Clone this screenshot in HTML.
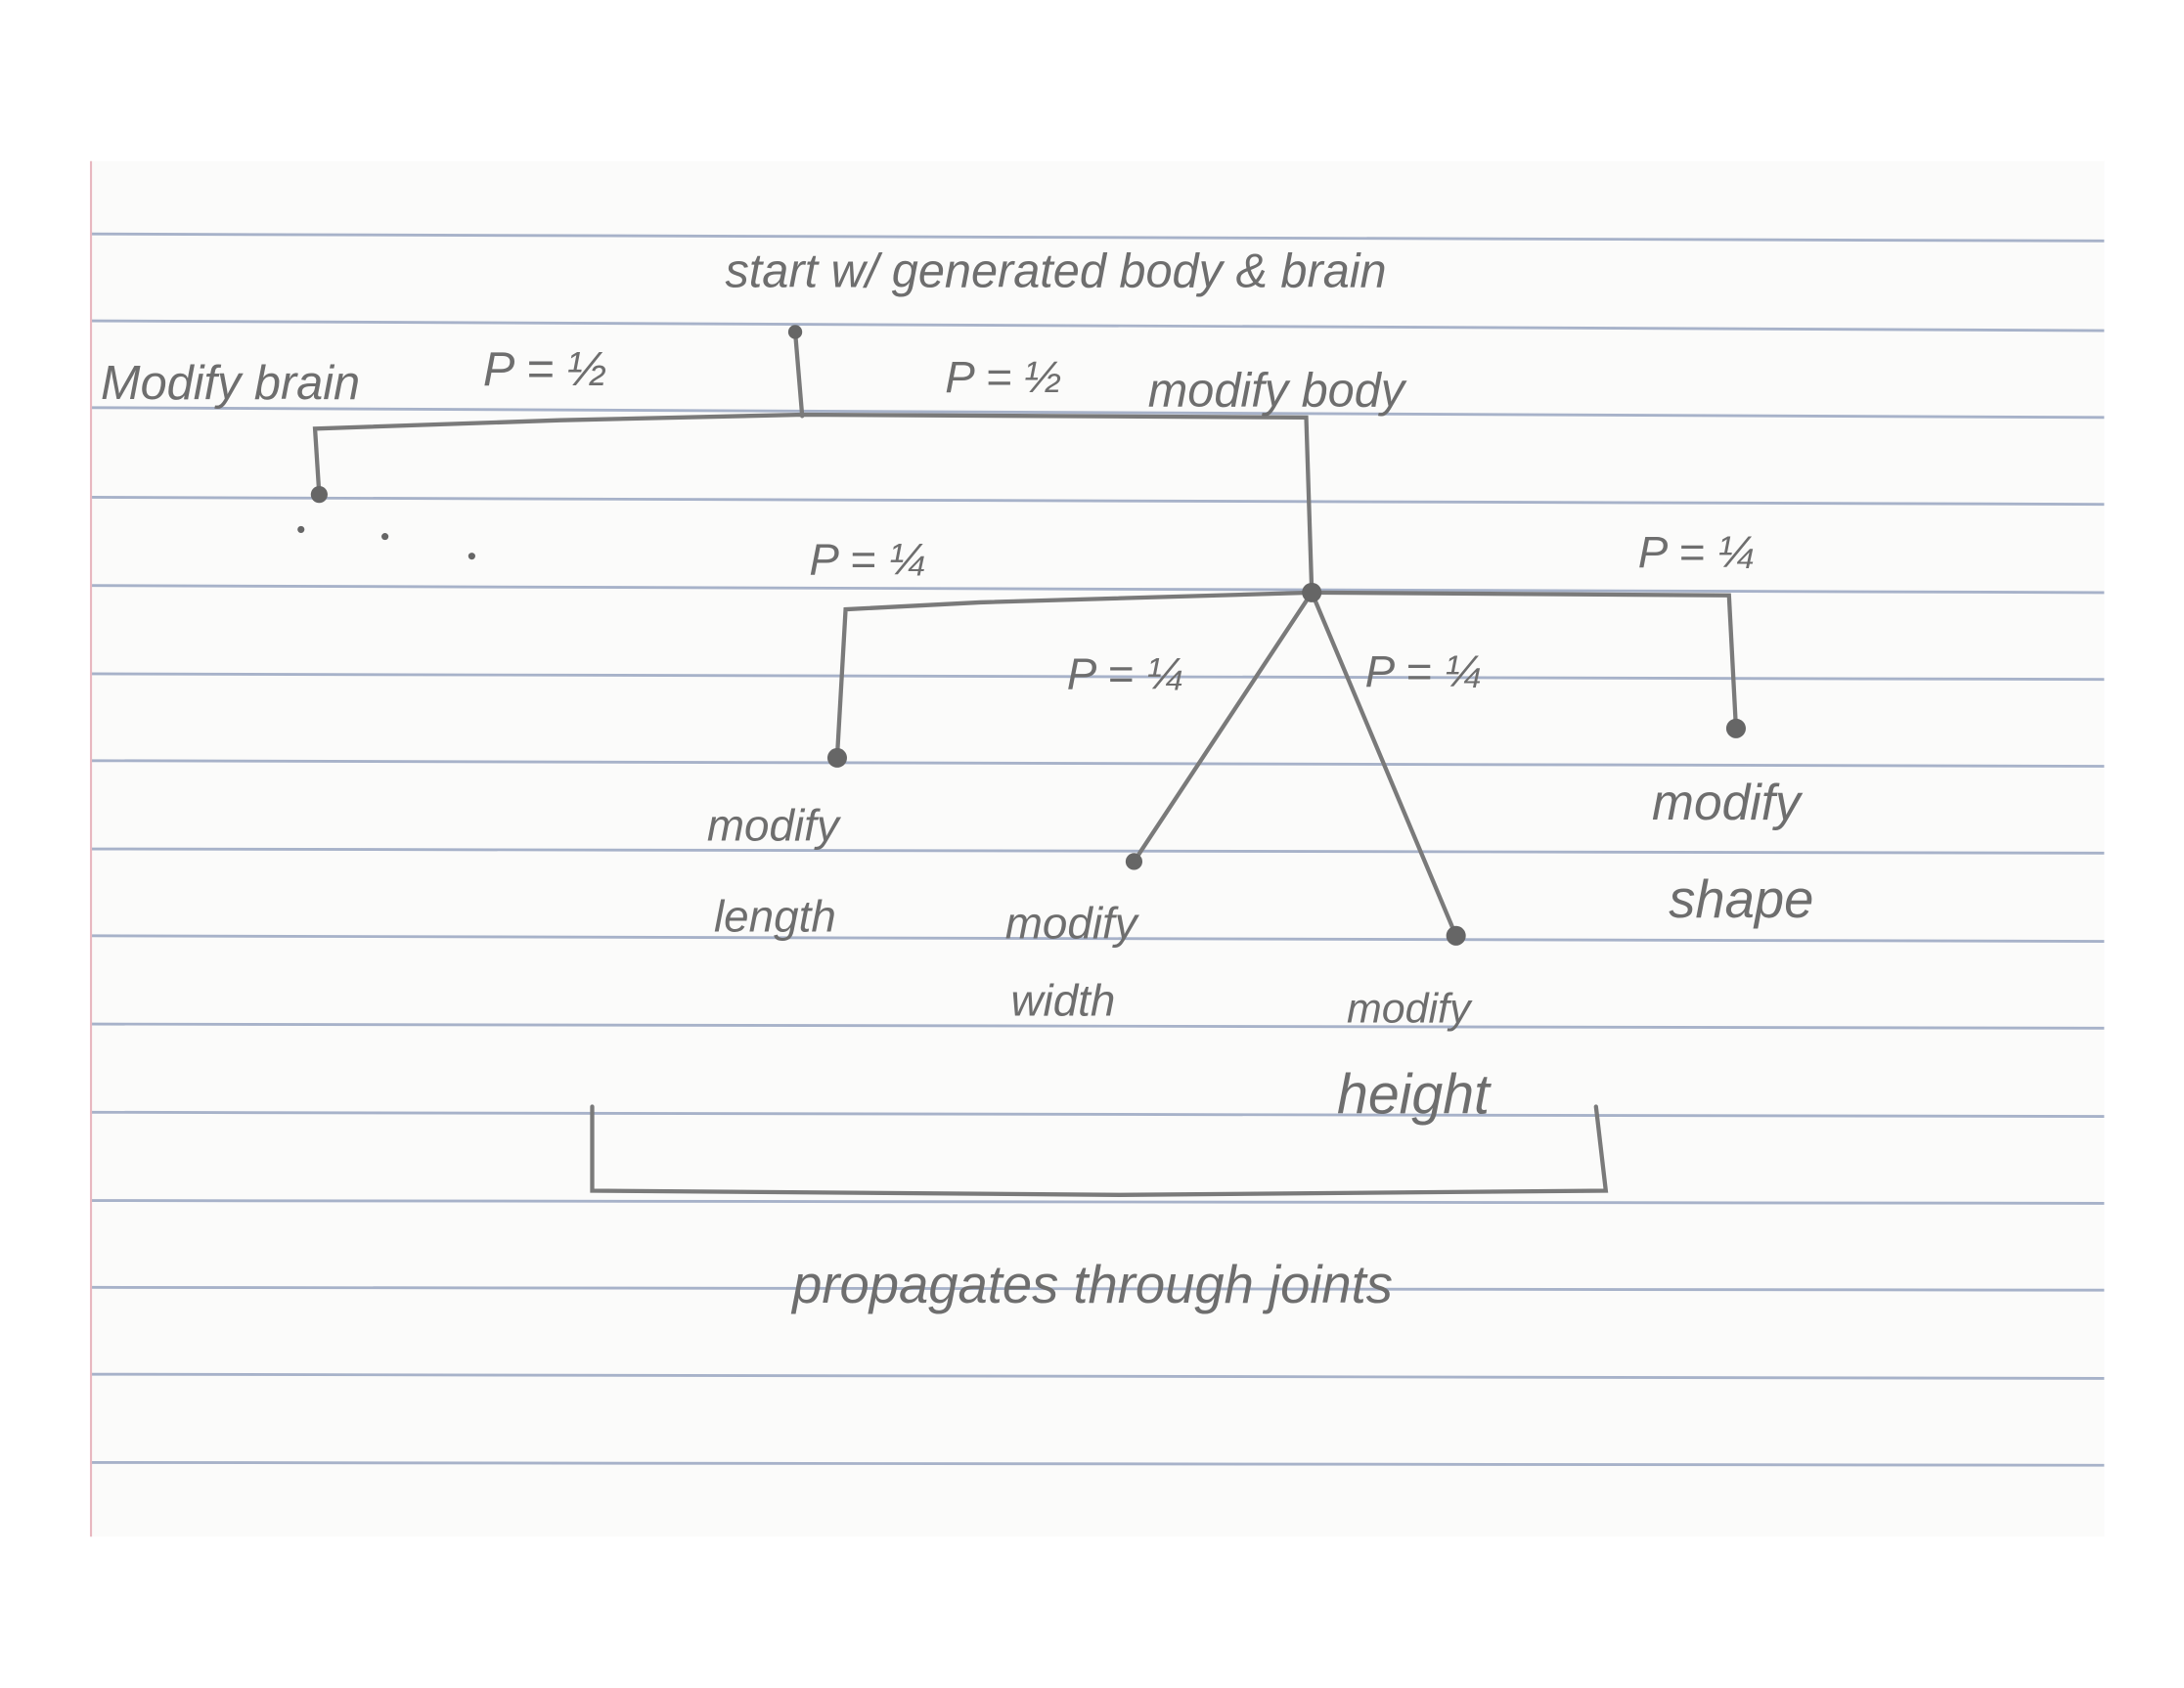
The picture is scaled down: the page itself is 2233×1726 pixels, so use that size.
<!DOCTYPE html>
<html><head><meta charset="utf-8"><style>
html,body{margin:0;padding:0;background:#fff;}
svg{display:block;}
text{font-family:"Liberation Sans",sans-serif;fill:#6e6e6e;font-style:italic;}
</style></head><body>
<svg width="2233" height="1726" viewBox="0 0 1560 1205" preserveAspectRatio="none" xmlns="http://www.w3.org/2000/svg">
<rect width="1560" height="1205" fill="#ffffff"/>
<rect x="65" y="115" width="1438" height="982" fill="#fbfbfa"/>
<g stroke="#a7b2c9" stroke-width="2">
<line x1="65" y1="167" x2="1503" y2="172"/>
<line x1="65" y1="229" x2="1503" y2="236"/>
<line x1="65" y1="291" x2="1503" y2="298"/>
<line x1="65" y1="355" x2="1503" y2="360"/>
<line x1="65" y1="418" x2="1503" y2="423"/>
<line x1="65" y1="481" x2="1503" y2="485"/>
<line x1="65" y1="543" x2="1503" y2="547"/>
<line x1="65" y1="606" x2="1503" y2="609"/>
<line x1="65" y1="668" x2="1503" y2="672"/>
<line x1="65" y1="731" x2="1503" y2="734"/>
<line x1="65" y1="794" x2="1503" y2="797"/>
<line x1="65" y1="857" x2="1503" y2="859"/>
<line x1="65" y1="919" x2="1503" y2="921"/>
<line x1="65" y1="981" x2="1503" y2="984"/>
<line x1="65" y1="1044" x2="1503" y2="1046"/>
</g>
<line x1="65" y1="115" x2="65" y2="1097" stroke="#e8b8c0" stroke-width="1.5"/>
<g stroke="#7a7a7a" stroke-width="3" fill="none" stroke-linecap="round">
<path d="M568 237 L573 297"/>
<path d="M228 353 L225 306 L400 300 L573 296 L933 298 L937 423"/>
<path d="M937 423 L700 430 L604 435 L598 540"/>
<path d="M937 423 L1235 425 L1240 520"/>
<path d="M937 423 L810 615"/>
<path d="M937 423 L1040 668"/>
<path d="M423 790 L423 850 L800 853 L1147 850 L1140 790"/>
</g>
<g fill="#666">
<circle cx="568" cy="237" r="5"/><circle cx="228" cy="353" r="6"/>
<circle cx="937" cy="423" r="7"/><circle cx="598" cy="541" r="7"/>
<circle cx="1240" cy="520" r="7"/><circle cx="810" cy="615" r="6"/>
<circle cx="1040" cy="668" r="7"/>
<circle cx="215" cy="378" r="2.5"/><circle cx="275" cy="383" r="2.5"/><circle cx="337" cy="397" r="2.5"/>
</g>
<text x="518" y="205" font-size="34">start w/ generated body &amp; brain</text>
<text x="72" y="285" font-size="34">Modify brain</text>
<text x="345" y="275" font-size="34">P = ½</text>
<text x="675" y="280" font-size="32">P = ½</text>
<text x="820" y="290" font-size="34">modify body</text>
<text x="578" y="410" font-size="32">P = ¼</text>
<text x="1170" y="405" font-size="32">P = ¼</text>
<text x="762" y="492" font-size="32">P = ¼</text>
<text x="975" y="490" font-size="32">P = ¼</text>
<text x="505" y="600" font-size="32">modify</text>
<text x="510" y="665" font-size="32">length</text>
<text x="718" y="670" font-size="32">modify</text>
<text x="722" y="725" font-size="32">width</text>
<text x="962" y="730" font-size="30">modify</text>
<text x="955" y="795" font-size="40">height</text>
<text x="1180" y="585" font-size="36">modify</text>
<text x="1192" y="655" font-size="38">shape</text>
<text x="566" y="930" font-size="38">propagates through joints</text>
</svg>
</body></html>
